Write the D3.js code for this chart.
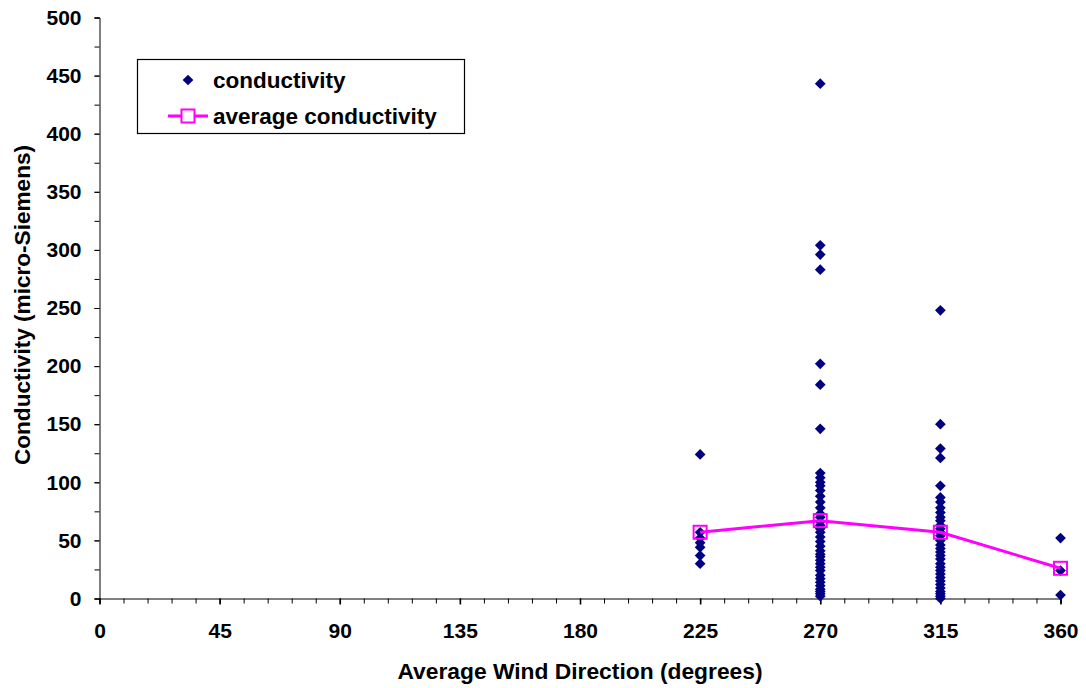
<!DOCTYPE html>
<html>
<head>
<meta charset="utf-8">
<script src="https://cdn.jsdelivr.net/npm/d3@7/dist/d3.min.js"></script>
<style>
  html, body { margin: 0; padding: 0; background: #fff; }
  svg { display: block; font-family: "Liberation Sans", Arial, sans-serif; font-weight: bold; }
</style>
</head>
<body>
<svg id="chart" width="1086" height="688"></svg>
<script>
// ---- data ----
const dir225 = [124, 57, 52, 48, 44, 37, 30];
const dir270 = [443, 304, 296, 283, 202, 184, 146, 108, 104, 100, 97, 93, 88, 83, 78, 73, 70, 66, 63, 60, 57, 53, 49, 45, 41, 38, 36, 33, 30, 27, 24, 20, 17, 14, 11, 8, 6, 4, 2];
const dir315 = [248, 150, 129, 121, 97, 87, 83, 78, 74, 70, 67, 63, 60, 57, 54, 50, 46, 43, 40, 37, 34, 30, 27, 24, 21, 18, 15, 12, 9, 6, 4, 2, 0];
const dir360 = [52, 24, 3];
const directions = [225, 270, 315, 360];
const averageConductivity = [57, 67, 57, 26];
const xTickLabels = [0, 45, 90, 135, 180, 225, 270, 315, 360];
const yTickLabels = [0, 50, 100, 150, 200, 250, 300, 350, 400, 450, 500];

const groups = [dir225, dir270, dir315, dir360];
const points = [];
groups.forEach((g, i) => g.forEach(v => points.push({ x: directions[i], y: v })));
const avg = directions.map((d, i) => ({ x: d, y: averageConductivity[i] }));

const svg = d3.select("#chart");
const x = d3.scaleLinear().domain([0, 360]).range([99.5, 1060.5]);
const y = d3.scaleLinear().domain([0, 500]).range([598.5, 17.5]);
const FONT = "Liberation Sans, Arial, sans-serif";

// axes
const gx = svg.append("g").attr("transform", "translate(0,598.5)");
gx.call(d3.axisBottom(x).tickValues(d3.range(0, 361, 9)).tickSize(5).tickFormat(""));
const gx2 = svg.append("g").attr("transform", "translate(0,598.5)");
gx2.call(d3.axisBottom(x).tickValues(xTickLabels).tickSize(6).tickPadding(19).tickFormat(d3.format("d")));
gx2.select(".domain").remove();
gx2.selectAll(".tick line").attr("stroke-width", 1.6);
gx2.selectAll("text").attr("font-size", 21).attr("font-weight", "bold").attr("fill", "#000")
  .attr("font-family", FONT);

const gy = svg.append("g").attr("transform", "translate(99.5,0)");
gy.call(d3.axisLeft(y).tickValues(d3.range(0, 501, 25)).tickSize(5).tickFormat(""));
const gy2 = svg.append("g").attr("transform", "translate(99.5,0)");
gy2.call(d3.axisLeft(y).tickValues(yTickLabels).tickSize(5).tickPadding(13).tickFormat(d3.format("d")));
gy2.select(".domain").remove();
gy2.selectAll("text").attr("font-size", 21).attr("font-weight", "bold").attr("fill", "#000")
  .attr("font-family", FONT);

svg.selectAll(".domain").attr("stroke", "#000");

// axis titles
svg.append("text").attr("x", 580).attr("y", 679).attr("text-anchor", "middle")
  .attr("font-size", 22.8).text("Average Wind Direction (degrees)");
svg.append("text").attr("transform", "translate(30,305) rotate(-90)").attr("text-anchor", "middle")
  .attr("font-size", 22.6).text("Conductivity (micro-Siemens)");

// scatter
svg.append("g").selectAll("rect").data(points).join("rect")
  .attr("x", -3.8).attr("y", -3.8).attr("width", 7.6).attr("height", 7.6)
  .attr("transform", d => `translate(${x(d.x)},${y(d.y)}) rotate(45)`)
  .attr("fill", "#000080");

// average line
svg.append("path").datum(avg)
  .attr("d", d3.line().x(d => x(d.x)).y(d => y(d.y)))
  .attr("fill", "none").attr("stroke", "#FF00FF").attr("stroke-width", 3);
svg.append("g").selectAll("rect").data(avg).join("rect")
  .attr("x", d => x(d.x) - 6.5).attr("y", d => y(d.y) - 6.5)
  .attr("width", 13).attr("height", 13)
  .attr("fill", "none").attr("stroke", "#FF00FF").attr("stroke-width", 2);

// legend
const lg = svg.append("g");
lg.append("rect").attr("x", 137.5).attr("y", 59.5).attr("width", 327).attr("height", 74)
  .attr("fill", "#fff").attr("stroke", "#000").attr("stroke-width", 1.2);
lg.append("rect").attr("x", -3.8).attr("y", -3.8).attr("width", 7.6).attr("height", 7.6)
  .attr("transform", "translate(188,80) rotate(45)").attr("fill", "#000080");
lg.append("text").attr("x", 213).attr("y", 80).attr("dy", "0.35em").attr("font-size", 22.5).text("conductivity");
lg.append("line").attr("x1", 168).attr("x2", 208).attr("y1", 116).attr("y2", 116)
  .attr("stroke", "#FF00FF").attr("stroke-width", 3);
lg.append("rect").attr("x", 181.5).attr("y", 109.5).attr("width", 13).attr("height", 13)
  .attr("fill", "#fff").attr("stroke", "#FF00FF").attr("stroke-width", 2);
lg.append("text").attr("x", 213).attr("y", 116).attr("dy", "0.35em").attr("font-size", 22.5).text("average conductivity");
</script>
</body>
</html>
